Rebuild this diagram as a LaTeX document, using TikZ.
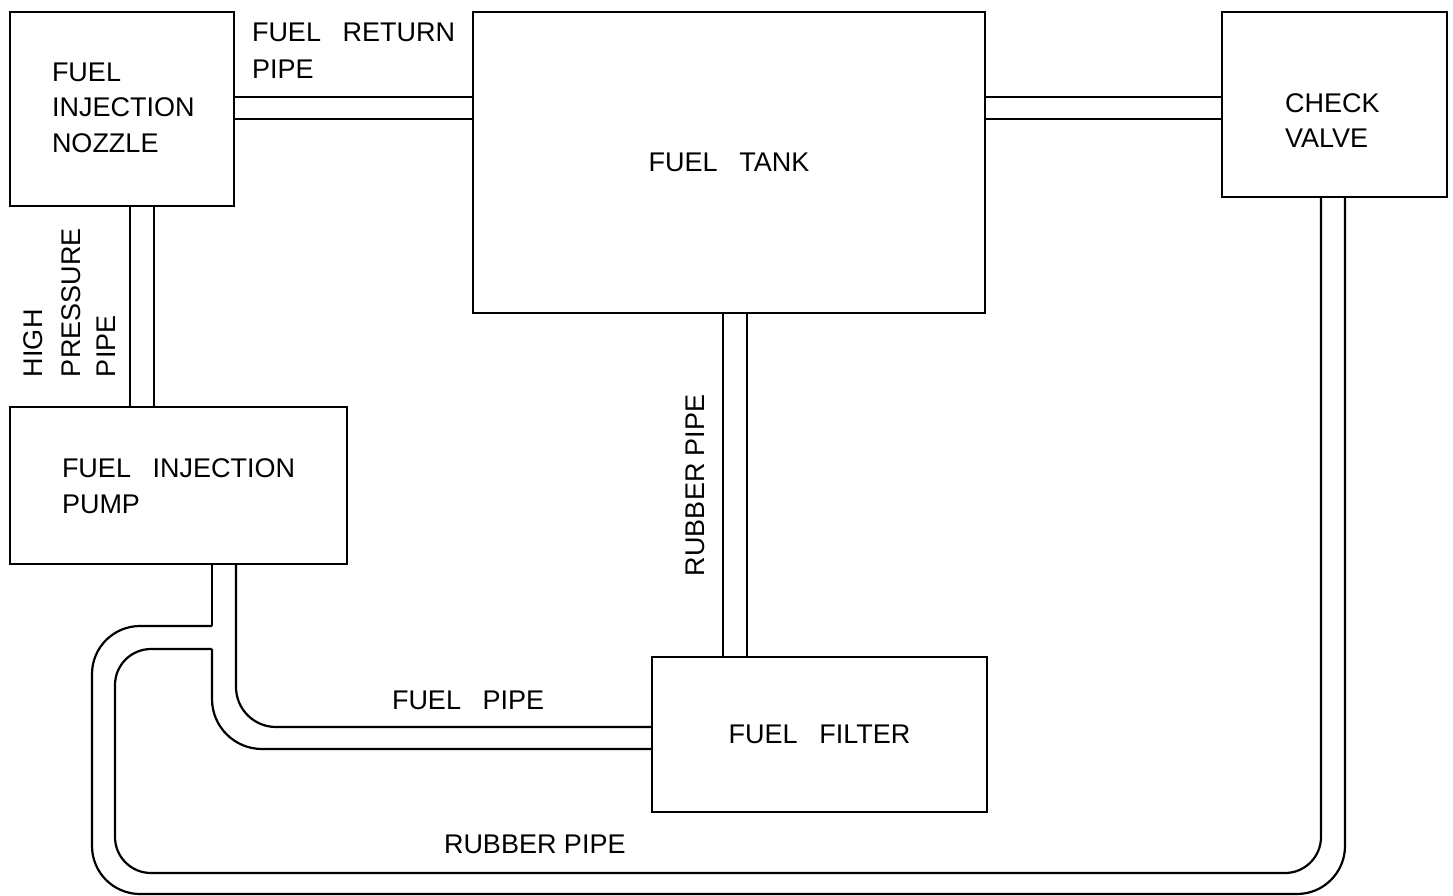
\documentclass[tikz,border=0pt]{standalone}
\usepackage{fontspec}
\setmainfont{Liberation Sans}
\newcommand{\wg}{\hspace{0.8em}}
\begin{document}
\begin{tikzpicture}[x=1pt,y=-1pt,
  box/.style={draw,line width=2.2pt,inner sep=0pt,outer sep=0pt,anchor=north west},
  pipe/.style={line width=2.2pt},
  lbl/.style={font=\fontsize{27}{36}\selectfont,inner sep=0pt,outer sep=0pt},
  lblw/.style={lbl,anchor=base west},
  lblv/.style={lbl,anchor=base west,rotate=90}]
\useasboundingbox (0,0) rectangle (1453,896);
% boxes
\node[box,minimum width=224pt,minimum height=194pt] (noz) at (10,12) {};
\node[box,lbl,minimum width=512pt,minimum height=301pt] (tank) at (473,12) {FUEL\wg TANK};
\node[box,minimum width=225pt,minimum height=185pt] (valve) at (1222,12) {};
\node[box,minimum width=337pt,minimum height=157pt] (pump) at (10,407) {};
\node[box,lbl,minimum width=335pt,minimum height=155pt] (filter) at (652,657) {FUEL\wg FILTER};
% helper coordinates
\coordinate (ya) at (0,97);   \coordinate (yb) at (0,119);
\coordinate (xa) at (130,0);  \coordinate (xb) at (154,0);
\coordinate (xr) at (723,0);  \coordinate (xs) at (747,0);
\coordinate (xc) at (212,0);  \coordinate (xd) at (236,0);
\coordinate (f1) at (0,727);  \coordinate (f2) at (0,749);
\coordinate (r1) at (0,626);  \coordinate (r2) at (0,649);
\coordinate (xo) at (1345,0); \coordinate (xi) at (1321,0);
\coordinate (lo1) at (92,626);  \coordinate (lo2) at (92,894);  \coordinate (lo3) at (1345,894);
\coordinate (li1) at (115,649); \coordinate (li2) at (115,873); \coordinate (li3) at (1321,873);
% fuel return pipe
\draw[pipe] (noz.east |- ya) -- (tank.west |- ya);
\draw[pipe] (noz.east |- yb) -- (tank.west |- yb);
% tank - check valve
\draw[pipe] (tank.east |- ya) -- (valve.west |- ya);
\draw[pipe] (tank.east |- yb) -- (valve.west |- yb);
% high pressure pipe
\draw[pipe] (xa |- noz.south) -- (xa |- pump.north);
\draw[pipe] (xb |- noz.south) -- (xb |- pump.north);
% rubber pipe tank - filter
\draw[pipe] (xr |- tank.south) -- (xr |- filter.north);
\draw[pipe] (xs |- tank.south) -- (xs |- filter.north);
% fuel pipe pump - filter
\draw[pipe,rounded corners=40pt] (xd |- pump.south) -- (xd |- f1) -- (filter.west |- f1);
\draw[pipe] (xc |- pump.south) -- (xc |- r1);
\draw[pipe,rounded corners=50pt] (xc |- r2) -- (xc |- f2) -- (filter.west |- f2);
% rubber pipe loop to check valve
\draw[pipe,rounded corners=48pt] (xc |- r1) -- (lo1) -- (lo2) -- (lo3) -- (xo |- valve.south);
\draw[pipe,rounded corners=36pt] (xc |- r2) -- (li1) -- (li2) -- (li3) -- (xi |- valve.south);
% labels
\node[lblw] (nozA) at (52,82) {FUEL};
\node[lblw] (nozB) at (52,117) {INJECTION};
\node[lblw] (nozC) at (52,153) {NOZZLE};
\node[lblw] (retA) at (252,42) {FUEL\wg RETURN};
\node[lblw] (retB) at (252,79) {PIPE};
\node[lblw] (chkA) at (1285,113) {CHECK};
\node[lblw] (chkB) at (1285,148) {VALVE};
\node[lblw] (pmpA) at (62,477) {FUEL\wg INJECTION};
\node[lblw] (pmpB) at (62,513) {PUMP};
\node[lblw] (fpipe) at (392,709) {FUEL\wg PIPE};
\node[lblw] (rpipe) at (444,853) {RUBBER PIPE};
\node[lblv] (hpA) at (42,377) {HIGH};
\node[lblv] (hpB) at (80,377) {PRESSURE};
\node[lblv] (hpC) at (115,377) {PIPE};
\node[lblv] (rvert) at (704,576) {RUBBER PIPE};
\end{tikzpicture}
\end{document}
